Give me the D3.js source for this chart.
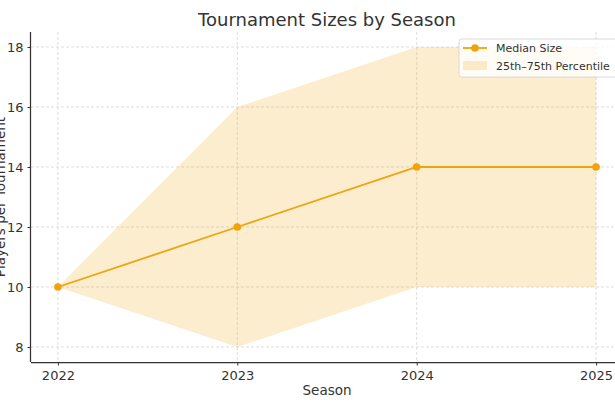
<!DOCTYPE html>
<html><head><meta charset="utf-8">
<script src="https://cdn.jsdelivr.net/npm/d3@7/dist/d3.min.js"></script>
<style>body{margin:0;background:#fff}svg{display:block;font-family:"DejaVu Sans",sans-serif}</style>
</head><body><svg id="c" width="615" height="410"></svg>
<script>
const seasons = [2022, 2023, 2024, 2025];
const median = [10, 12, 14, 14];
const p25 = [10, 8, 10, 10];
const p75 = [10, 16, 18, 18];
const yTicks = [8, 10, 12, 14, 16, 18];

const svg = d3.select("#c");
const L = 31, R = 623, T = 32, B = 362;
const x = d3.scaleLinear().domain([2021.85, 2025.15]).range([L, R]);
const y = d3.scaleLinear().domain([7.5, 18.5]).range([B, T]);
const lineCol = "#f0a30a";

// grid
const g = svg.append("g");
g.selectAll(".gx").data(seasons).join("line")
  .attr("x1", d => x(d)).attr("x2", d => x(d)).attr("y1", T).attr("y2", B)
  .attr("stroke", "#d4d4d4").attr("stroke-width", 0.8).attr("stroke-dasharray", "3,2");
g.selectAll(".gy").data(yTicks).join("line")
  .attr("x1", L).attr("x2", R).attr("y1", d => y(d)).attr("y2", d => y(d))
  .attr("stroke", "#d4d4d4").attr("stroke-width", 0.8).attr("stroke-dasharray", "3,2");

// band
const bandData = seasons.map((s, i) => ({s, lo: p25[i], hi: p75[i]}));
svg.append("path").datum(bandData)
  .attr("d", d3.area().x(d => x(d.s)).y0(d => y(d.lo)).y1(d => y(d.hi)))
  .attr("fill", lineCol).attr("fill-opacity", 0.2);

// line
const lineData = seasons.map((s, i) => ({s, v: median[i]}));
svg.append("path").datum(lineData)
  .attr("d", d3.line().x(d => x(d.s)).y(d => y(d.v)))
  .attr("fill", "none").attr("stroke", lineCol).attr("stroke-width", 1.8);
svg.selectAll(".pt").data(lineData).join("circle")
  .attr("cx", d => x(d.s)).attr("cy", d => y(d.v)).attr("r", 3.8).attr("fill", lineCol);

// axes
const xAxis = d3.axisBottom(x).tickValues(seasons).tickFormat(d3.format("d")).tickSize(3.5).tickPadding(5);
const yAxis = d3.axisLeft(y).tickValues(yTicks).tickSize(3.5).tickPadding(4);
const ax = svg.append("g").attr("transform", `translate(0,${B})`).call(xAxis);
const ay = svg.append("g").attr("transform", `translate(${L},0)`).call(yAxis);
[ax, ay].forEach(a => {
  a.select(".domain").attr("stroke", "#333").attr("stroke-width", 1.25);
  a.selectAll(".tick line").attr("stroke", "#333");
  a.selectAll(".tick text").attr("fill", "#333").style("font-size", "13px").style("font-family", "DejaVu Sans");
});
ax.select(".domain").attr("d", `M${L},0.5H${R}`);
ay.select(".domain").attr("d", `M-0.5,${B}V${T}`);

// labels
svg.append("text").attr("x", (L + R) / 2).attr("y", 26).attr("text-anchor", "middle")
  .attr("fill", "#333").style("font-size", "18px").text("Tournament Sizes by Season");
svg.append("text").attr("x", (L + R) / 2).attr("y", 395).attr("text-anchor", "middle")
  .attr("fill", "#333").style("font-size", "13.5px").text("Season");
svg.append("text").attr("transform", `translate(5,${(T + B) / 2}) rotate(-90)`).attr("text-anchor", "middle")
  .attr("fill", "#333").style("font-size", "13.5px").text("Players per Tournament");

// legend
const lg = svg.append("g").attr("transform", "translate(459,39)");
lg.append("rect").attr("width", 160).attr("height", 38).attr("rx", 2.5)
  .attr("fill", "#fff").attr("fill-opacity", 0.8).attr("stroke", "#d0d0d0").attr("stroke-width", 0.8);
lg.append("line").attr("x1", 4).attr("x2", 28).attr("y1", 9).attr("y2", 9)
  .attr("stroke", lineCol).attr("stroke-width", 1.8);
lg.append("circle").attr("cx", 16).attr("cy", 9).attr("r", 3.8).attr("fill", lineCol);
lg.append("rect").attr("x", 4).attr("y", 22).attr("width", 24).attr("height", 9)
  .attr("fill", lineCol).attr("fill-opacity", 0.2);
lg.append("text").attr("x", 37).attr("y", 13).attr("fill", "#333").style("font-size", "11px").text("Median Size");
lg.append("text").attr("x", 37).attr("y", 31).attr("fill", "#333").style("font-size", "11px").text("25th–75th Percentile");
</script></body></html>
